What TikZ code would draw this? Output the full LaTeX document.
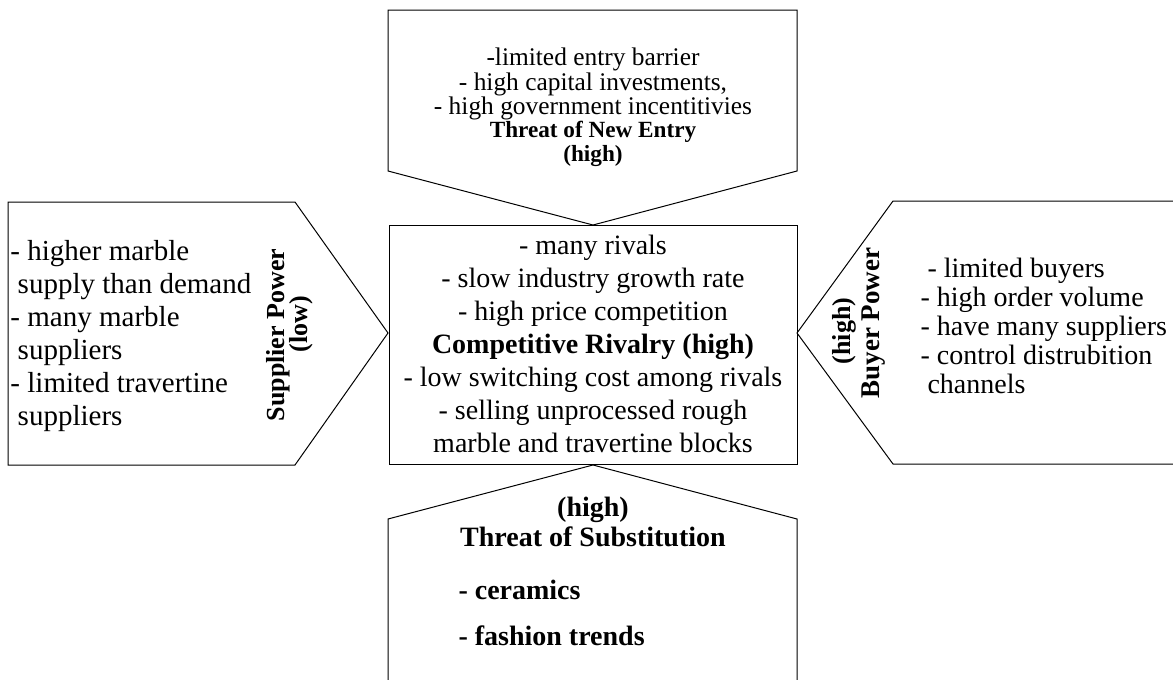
\documentclass[tikz,border=0pt]{standalone}
\usepackage{fontspec}
\setmainfont{Liberation Serif}
\usetikzlibrary{positioning}
\begin{document}
\begin{tikzpicture}[x=0.5pt,y=-0.5pt,line width=0.5pt,
    txt/.style={inner sep=0pt,align=center},
    sidetxt/.style={inner sep=0pt,align=left,anchor=west},
    rottxt/.style={inner sep=0pt,rotate=90,font=\fontsize{13}{14}\selectfont\bfseries}]
    \useasboundingbox (0,0) rectangle (1173,680);

    % Threat of New Entry (pointing down)
    \draw (388,10) -- (797,10) -- (797,171) -- (593,225) -- (388,171) -- cycle;
    \node[txt, font=\fontsize{12.7}{12.2}\selectfont] (entry) at (593,84)
        {-limited entry barrier\\ - high capital investments,\\ - high government incentitivies};
    \node[txt, font=\fontsize{11.6}{12.2}\selectfont\bfseries, below=0pt of entry] (entrytitle)
        {Threat of New Entry\\ (high)};

    % Competitive Rivalry
    \draw (389,225) rectangle (797,464);
    \node[txt, font=\fontsize{14}{16.5}\selectfont] (rivalry) at (593,344)
        {- many rivals\\ - slow industry growth rate\\ - high price competition\\
         \textbf{Competitive Rivalry (high)}\\ - low switching cost among rivals\\
         - selling unprocessed rough\\ marble and travertine blocks};

    % Supplier Power (pointing right)
    \draw (8,202) -- (295,202) -- (388,333) -- (295,465) -- (8,465) -- cycle;
    \node[sidetxt, font=\fontsize{14.5}{16.5}\selectfont] (supplier) at (10,336)
        {- higher marble\\ \ supply than demand\\ - many marble\\ \ suppliers\\
         - limited travertine\\ \ suppliers};
    \node[rottxt] (suppliertitle) at (278,335) {Supplier Power};
    \node[rottxt] (supplierlevel) at (301,324) {(low)};

    % Buyer Power (pointing left)
    \draw (1173,201) -- (893,201) -- (797,333) -- (893,464) -- (1173,464);
    \node[sidetxt, font=\fontsize{14}{14.5}\selectfont] (buyer) at (920,326)
        {\ - limited buyers\\ - high order volume\\ - have many suppliers\\
         - control distrubition\\ \ channels};
    \node[rottxt] (buyerlevel) at (844,331) {(high)};
    \node[rottxt, font=\fontsize{13.5}{14}\selectfont\bfseries] (buyertitle) at (874,323) {Buyer Power};

    % Threat of Substitution (pointing up)
    \draw (388,680) -- (388,519) -- (593,465) -- (797,519) -- (797,680);
    \node[txt, font=\fontsize{14}{15}\selectfont\bfseries] (subst) at (593,522)
        {(high)\\ Threat of Substitution};
    \node[sidetxt, font=\fontsize{14}{15}\selectfont\bfseries] (ceramics) at (458,590) {- ceramics};
    \node[sidetxt, font=\fontsize{14}{15}\selectfont\bfseries] (fashion) at (458,636) {- fashion trends};
\end{tikzpicture}
\end{document}
